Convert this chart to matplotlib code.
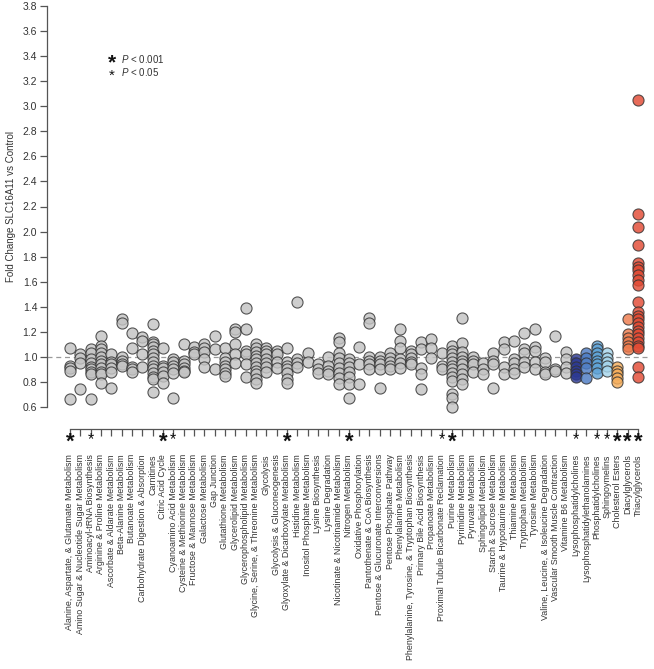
import matplotlib
matplotlib.use('Agg')
import matplotlib.pyplot as plt
import matplotlib.transforms as mtransforms
import numpy as np

plt.rcParams['font.family'] = ['Liberation Sans', 'DejaVu Sans']
plt.rcParams['mathtext.fontset'] = 'custom'
plt.rcParams['mathtext.it'] = 'Liberation Sans:italic'
plt.rcParams['mathtext.rm'] = 'Liberation Sans'

# pathways / lipid classes along the x axis
categories = [
    'Alanine, Aspartate, & Glutamate Metabolism', 'Amino Sugar & Nucleotide Sugar Metabolism',
    'Aminoacyl-tRNA Biosynthesis', 'Arginine & Proline Metabolism', 'Ascorbate & Aldarate Metabolism',
    'Beta-Alanine Metabolism', 'Butanoate Metabolism', 'Carbohydrate Digestion & Absorption',
    'Carnitines', 'Citric Acid Cycle', 'Cyanoamino Acid Metabolism', 'Cysteine & Methionine Metabolism',
    'Fructose & Mannose Metabolism', 'Galactose Metabolism', 'Gap Junction', 'Glutathione Metabolism',
    'Glycerolipid Metabolism', 'Glycerophospholipid Metabolism', 'Glycine, Serine, & Threonine Metabolism',
    'Glycolysis', 'Glycolysis & Gluconeogenesis', 'Glyoxylate & Dicarboxylate Metabolism',
    'Histidine Metabolism', 'Inositol Phosphate Metabolism', 'Lysine Biosynthesis', 'Lysine Degradation',
    'Nicotinate & Nicotinamide Metabolism', 'Nitrogen Metabolism', 'Oxidative Phosphorylation',
    'Pantothenate & CoA Biosynthesis', 'Pentose & Glucuronate Interconversions', 'Pentose Phosphate Pathway',
    'Phenylalanine Metabolism', 'Phenylalanine, Tyrosine, & Tryptophan Biosynthesis',
    'Primary Bile Acid Biosynthesis', 'Propanoate Metabolism', 'Proximal Tubule Bicarbonate Reclamation',
    'Purine Metabolism', 'Pyrimidine Metabolism', 'Pyruvate Metabolism', 'Sphingolipid Metabolism',
    'Starch & Sucrose Metabolism', 'Taurine & Hypotaurine Metabolism', 'Thiamine Metabolism',
    'Tryptophan Metabolism', 'Tyrosine Metabolism', 'Valine, Leucine, & Isoleucine Degradation',
    'Vascular Smooth Muscle Contraction', 'Vitamine B6 Metabolism', 'Lysophosphatidylcholines',
    'Lysophosphatidylethanolamines', 'Phosphatidylcholines', 'Sphingoymelins', 'Cholesterol Esters',
    'Diacylglycerols', 'Triacylglycerols',
]

# fold change of each metabolite, grouped by category (same order)
fold_change = [
    [1.07, 0.93, 0.91, 0.89, 0.66],
    [1.02, 0.99, 0.95, 0.74],
    [1.06, 1.03, 0.98, 0.95, 0.92, 0.90, 0.88, 0.86, 0.66],
    [1.17, 1.09, 1.06, 1.03, 1.00, 0.97, 0.94, 0.91, 0.88, 0.86, 0.79],
    [1.02, 0.96, 0.94, 0.91, 0.88, 0.75],
    [1.30, 1.27, 1.00, 0.97, 0.94, 0.93],
    [1.19, 1.07, 0.92, 0.90, 0.88],
    [1.16, 1.13, 1.02, 0.92],
    [1.26, 1.12, 1.10, 1.08, 1.05, 1.02, 0.99, 0.96, 0.93, 0.90, 0.87, 0.84, 0.82, 0.72],
    [1.07, 0.93, 0.91, 0.88, 0.85, 0.79],
    [0.98, 0.96, 0.93, 0.90, 0.87, 0.67],
    [1.10, 0.97, 0.94, 0.91, 0.89, 0.88],
    [1.08, 1.04, 1.02],
    [1.10, 1.07, 1.04, 0.98, 0.92],
    [1.17, 1.06, 0.90],
    [1.07, 0.99, 0.96, 0.93, 0.90, 0.87, 0.85],
    [1.22, 1.20, 1.10, 1.02, 0.95],
    [1.39, 1.22, 1.05, 1.02, 0.94, 0.84],
    [1.10, 1.07, 1.04, 1.01, 0.98, 0.95, 0.92, 0.89, 0.86, 0.82, 0.79],
    [1.07, 1.05, 1.02, 0.98, 0.95, 0.92, 0.88],
    [1.05, 1.02, 0.96, 0.91],
    [1.07, 0.96, 0.93, 0.90, 0.87, 0.82, 0.79],
    [1.44, 0.98, 0.95, 0.92],
    [1.03, 0.96],
    [0.94, 0.90, 0.87],
    [1.00, 0.93, 0.89, 0.86],
    [1.15, 1.12, 1.03, 0.99, 0.95, 0.91, 0.87, 0.83, 0.78],
    [0.98, 0.95, 0.92, 0.88, 0.84, 0.78, 0.67],
    [1.08, 0.94, 0.78],
    [1.31, 1.27, 1.00, 0.97, 0.94, 0.90],
    [1.00, 0.97, 0.94, 0.90, 0.75],
    [1.03, 0.99, 0.96, 0.93, 0.90],
    [1.22, 1.13, 1.07, 0.98, 0.95, 0.91],
    [1.05, 1.02, 0.99, 0.96, 0.94],
    [1.12, 1.06, 0.91, 0.86, 0.74],
    [1.14, 1.07, 0.99],
    [1.03, 0.93, 0.90],
    [1.09, 1.05, 1.02, 0.99, 0.96, 0.93, 0.90, 0.87, 0.84, 0.81, 0.70, 0.67, 0.60],
    [1.31, 1.11, 1.04, 1.00, 0.97, 0.94, 0.90, 0.86, 0.82, 0.78],
    [1.00, 0.97, 0.94, 0.88],
    [0.95, 0.90, 0.86],
    [1.03, 0.97, 0.94, 0.75],
    [1.12, 1.06, 0.92, 0.86],
    [1.13, 0.98, 0.95, 0.90, 0.87],
    [1.19, 1.06, 1.03, 0.96, 0.92],
    [1.22, 1.08, 1.05, 0.96, 0.90],
    [0.99, 0.96, 0.88, 0.86],
    [1.17, 0.90, 0.89],
    [1.04, 0.98, 0.92, 0.87],
    [0.98, 0.95, 0.92, 0.89, 0.86, 0.84],
    [1.03, 0.99, 0.95, 0.91, 0.83],
    [1.09, 1.06, 1.03, 1.00, 0.97, 0.94, 0.91, 0.87],
    [1.03, 0.99, 0.96, 0.93, 0.89],
    [0.92, 0.89, 0.86, 0.83, 0.80],
    [1.30, 1.18, 1.15, 1.12, 1.09, 1.06],
    [3.05, 2.14, 2.04, 1.89, 1.75, 1.72, 1.69, 1.65, 1.61, 1.57, 1.44, 1.36, 1.33, 1.30,
     1.27, 1.24, 1.21, 1.18, 1.15, 1.12, 1.09, 1.07, 0.92, 0.84],
]

# significance: 2 = P < 0.001, 1 = P < 0.05, 0 = n.s.
significance = [2, 0, 1, 0, 0, 0, 0, 0, 0, 2, 1, 0, 0, 0, 0, 0, 0, 0, 0, 0, 0, 2, 0, 0, 0, 0,
                0, 2, 0, 0, 0, 0, 0, 0, 0, 0, 1, 2, 0, 0, 0, 0, 0, 0, 0, 0, 0, 0, 0, 1, 0, 1,
                1, 2, 2, 2]

# lipid class colours, everything else grey
lipid_colors = {
    'Lysophosphatidylcholines': '#2c3992',
    'Lysophosphatidylethanolamines': '#4d7cc4',
    'Phosphatidylcholines': '#60a4d7',
    'Sphingoymelins': '#a6d5eb',
    'Cholesterol Esters': '#f5ae5c',
    'Diacylglycerols': '#ee7b4d',
    'Triacylglycerols': '#e24b34',
}
grey = '#c4c4c4'
axis_c = '#555555'
text_c = '#333333'

W, H = 654, 669
fig = plt.figure(figsize=(W / 100, H / 100), dpi=100)
step = 10.33
ax = fig.add_axes([47 / W, 1 - 407 / H, (650 - 47) / W, (407 - 6) / H])
ax.set_xlim(-(70 - 47) / step, 55 + 12 / step)
ax.set_ylim(0.6, 3.8)

ax.axhline(1.0, color='#9a9a9a', lw=0.9, ls=(0, (4, 3)), zorder=0)

for i, (cat, vals) in enumerate(zip(categories, fold_change)):
    col = lipid_colors.get(cat, grey)
    ax.scatter(np.full(len(vals), i), vals, s=64, facecolor=col, alpha=0.82,
               edgecolor='#333333', linewidth=0.8, zorder=3, clip_on=False)

# axes styling
for s in ['top', 'right']:
    ax.spines[s].set_visible(False)
ax.spines['left'].set_color(axis_c); ax.spines['left'].set_linewidth(0.9)
ax.spines['left'].set_bounds(0.6, 3.8)
ax.spines['bottom'].set_position(('outward', 16))
ax.spines['bottom'].set_bounds(0, len(categories) - 1)
ax.spines['bottom'].set_color(axis_c); ax.spines['bottom'].set_linewidth(0.9)

ax.set_yticks(np.arange(0.6, 3.81, 0.2))
ax.set_yticklabels([f'{v:.1f}' for v in np.arange(0.6, 3.81, 0.2)])
ax.tick_params(axis='y', length=5, width=0.9, color=axis_c, labelsize=7.5, labelcolor=text_c, pad=2)
ax.set_xticks(range(len(categories)))
ax.set_xticklabels(categories, rotation=90, ha='center', va='top')
ax.tick_params(axis='x', length=5, width=0.9, color=axis_c, labelsize=6.4, labelcolor=text_c, pad=13)

ax.set_ylabel('Fold Change SLC16A11 vs Control', fontsize=7, color=text_c, labelpad=5)

# significance stars under the axis
trans = mtransforms.blended_transform_factory(ax.transData, fig.transFigure)
for i, sig in enumerate(significance):
    if sig == 2:
        ax.text(i, 1 - 442 / H, '*', transform=trans, ha='center', va='center',
                fontsize=16, fontweight='bold', color='#111111')
    elif sig == 1:
        ax.text(i, 1 - 440 / H, '*', transform=trans, ha='center', va='center',
                fontsize=11.5, color='#111111')

# legend
fig.text(112 / W, 1 - 63 / H, '*', ha='center', va='center', fontsize=15, fontweight='bold', color='#111111')
fig.text(112 / W, 1 - 76 / H, '*', ha='center', va='center', fontsize=11, color='#111111')
fig.text(121 / W, 1 - 59 / H, r'$P$ < 0.001', ha='left', va='center', fontsize=7, color=text_c)
fig.text(121 / W, 1 - 72 / H, r'$P$ < 0.05', ha='left', va='center', fontsize=7, color=text_c)

fig.savefig('out.png', dpi=100, facecolor='white')
